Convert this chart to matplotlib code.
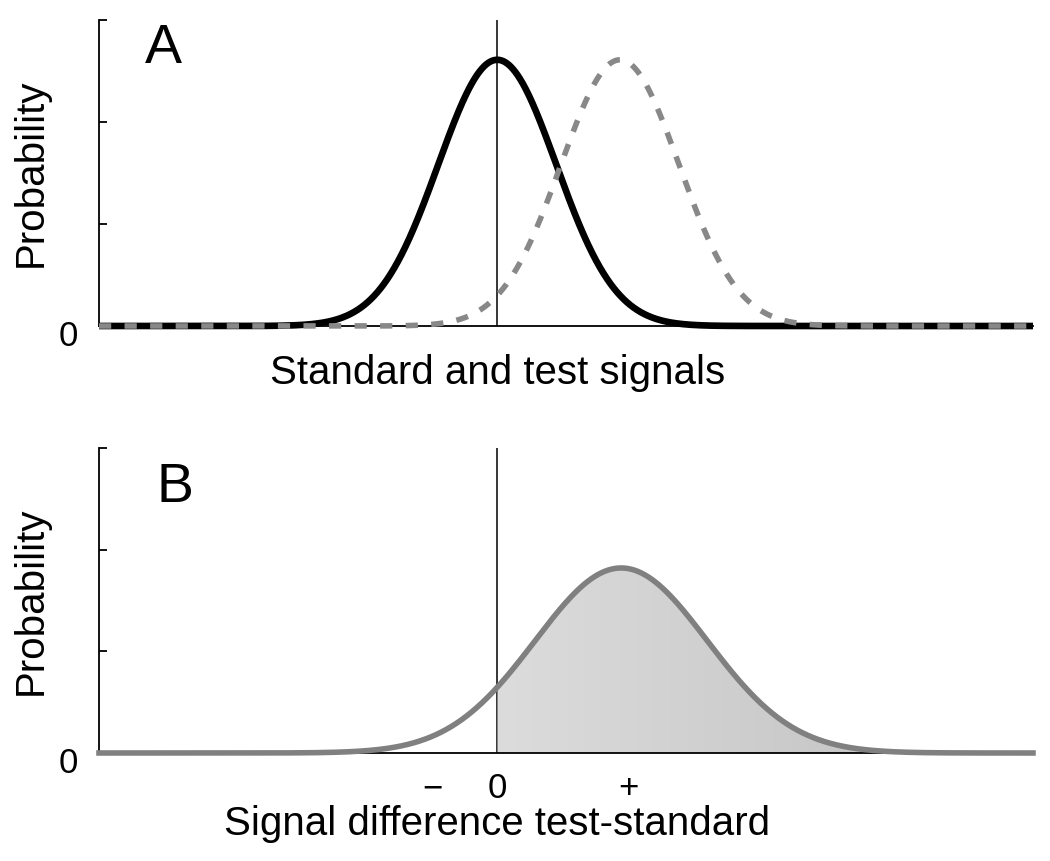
import numpy as np
import matplotlib.pyplot as plt
from matplotlib.colors import LinearSegmentedColormap
from matplotlib.transforms import ScaledTranslation, blended_transform_factory

plt.rcParams['font.family'] = ['Liberation Sans', 'DejaVu Sans']

# curve parameters (x in units of the standard's sd)
std_mean, std_sd, std_peak = 0.0, 1.0, 2.61
test_mean, test_sd, test_peak = 2.08, 1.0, 2.61
diff_mean, diff_sd, diff_peak = 2.1, 1.46, 1.82
x_range = (-6.75, 9.08)
y_ticks = [0, 1, 2, 3]
b_tick_pos = [-1.10, 0.0, 2.22]
b_tick_labels = ['\u2212', '0', '+']


def bell(x, m, s, h):
    return h * np.exp(-0.5 * ((x - m) / s) ** 2)


fig = plt.figure(figsize=(10.5, 8.61), dpi=100)
W, H = 1050, 861
L, R = 99, 1033
axA = fig.add_axes([L / W, 1 - 326 / H, (R - L) / W, 306 / H])
axB = fig.add_axes([L / W, 1 - 753 / H, (R - L) / W, 305 / H])

x = np.linspace(x_range[0], x_range[1], 2000)

for ax in (axA, axB):
    ax.set_xlim(*x_range)
    ax.set_ylim(0, 3)
    for s in ('top', 'right'):
        ax.spines[s].set_visible(False)
    for s in ('left', 'bottom'):
        ax.spines[s].set_linewidth(1.3)
    ax.set_yticks(y_ticks)
    ax.set_yticklabels(['0', '', '', ''])
    ax.tick_params(axis='y', direction='in', length=6, width=1.3, pad=15, labelsize=25)
    for lab in ax.get_yticklabels():
        lab.set_transform(lab.get_transform() + ScaledTranslation(0, -7 / 100, fig.dpi_scale_trans))
    ax.axvline(0, color='black', lw=1.1, zorder=1)
    ax.text(-0.073, 0.5, 'Probability', transform=ax.transAxes, rotation=90,
            ha='center', va='center', fontsize=29)

# panel A
axA.set_xticks([])
axA.plot(x, bell(x, std_mean, std_sd, std_peak), color='black', lw=4.8,
         solid_capstyle='butt', zorder=3, clip_on=False)
axA.plot(x, bell(x, test_mean, test_sd, test_peak), color='#888888', lw=4.0,
         linestyle=(0, (2.2, 2.4)), zorder=4, clip_on=False)
axA.text(0.069, 0.905, 'A', transform=axA.transAxes, ha='center', va='center', fontsize=40)
tA = blended_transform_factory(axA.transData, axA.transAxes)
axA.text(0, -0.154, 'Standard and test signals', transform=tA, ha='center', va='center', fontsize=29)

# panel B
yB = bell(x, diff_mean, diff_sd, diff_peak)
grad = LinearSegmentedColormap.from_list('g', ['#dcdcdc', '#bdbdbd'])
poly = axB.fill_between(x, 0, yB, where=x >= 0, color='none', lw=0)
img = axB.imshow(np.linspace(0, 1, 256).reshape(1, -1), cmap=grad, aspect='auto',
                 extent=[0, x_range[1], 0, 3], zorder=1.5)
img.set_clip_path(poly.get_paths()[0], transform=axB.transData)
axB.set_xlim(*x_range)
axB.set_ylim(0, 3)
axB.plot(x, yB, color='#808080', lw=4.0, zorder=3, clip_on=False)
axB.set_xticks(b_tick_pos)
axB.set_xticklabels(b_tick_labels)
axB.tick_params(axis='x', length=0, pad=14, labelsize=25)
axB.text(0.081, 0.87, 'B', transform=axB.transAxes, ha='center', va='center', fontsize=40)
tB = blended_transform_factory(axB.transData, axB.transAxes)
axB.text(0, -0.232, 'Signal difference test-standard', transform=tB, ha='center', va='center', fontsize=29)

fig.savefig('out.png', dpi=100)
